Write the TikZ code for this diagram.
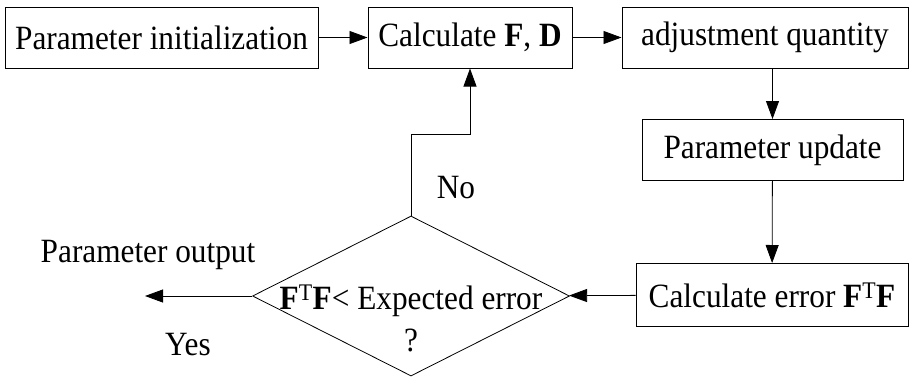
\documentclass[tikz,border=0pt]{standalone}
\usepackage{fontspec}
\setmainfont[FakeStretch=0.92]{Liberation Serif}
\usetikzlibrary{arrows.meta,positioning,calc,shapes.geometric}

\tikzset{
  box/.style={draw,line width=1pt,minimum height=61pt,inner sep=0pt},
  decision/.style={draw,diamond,line width=0.8pt,minimum width=317pt,minimum height=160pt,inner sep=0pt},
  arr/.style={line width=0.8pt,-{Triangle[length=18pt,width=13pt]}},
  ln/.style={line width=0.8pt}
}

\begin{document}
\begin{tikzpicture}[x=1pt,y=-1pt,font=\fontsize{34}{38}\selectfont]
  \useasboundingbox (0,0) rectangle (913,376);
  % top row
  \node[box,minimum width=313pt] (init) at (161.5,37.5) {Parameter initialization};
  \node[box,minimum width=204pt] (calc) at (470,37.5) {Calculate \textbf{F}, \textbf{D}};
  \node[box,minimum width=286pt] (adjust) at (765,37.5) {adjustment quantity};
  % right column
  \node[box,minimum width=261pt] (update) at (772.5,150) {Parameter update};
  \node[box,minimum width=272pt,minimum height=63pt] (error) at (772,295)
    {Calculate error \textbf{F}\textsuperscript{T}\textbf{F}};
  % decision
  \node[decision,label={[align=center,yshift=-22pt]center:{\textbf{F}\textsuperscript{T}\textbf{F}< Expected error\\[4pt]?}}]
    (check) at (411,296) {};
  \coordinate (out) at (145,296);
  \coordinate (bend) at ($(check.north |- 0,134)$);
  \node (outlbl) at (148,255) {Parameter output};
  \node (yes) at (188,345) {Yes};
  \node (no) at (456,188) {No};

  \draw[arr] (init) -- (calc);
  \draw[arr] (calc) -- (adjust);
  \draw[arr] (update.north |- adjust.south) -- (update.north);
  \draw[arr] (update) -- (error);
  \draw[arr] (error) -- (check);
  \draw[arr] (check) -- (out);
  \draw[ln] (check.north) -- (bend);
  \draw[arr] (bend) -| (calc.south);
\end{tikzpicture}
\end{document}
